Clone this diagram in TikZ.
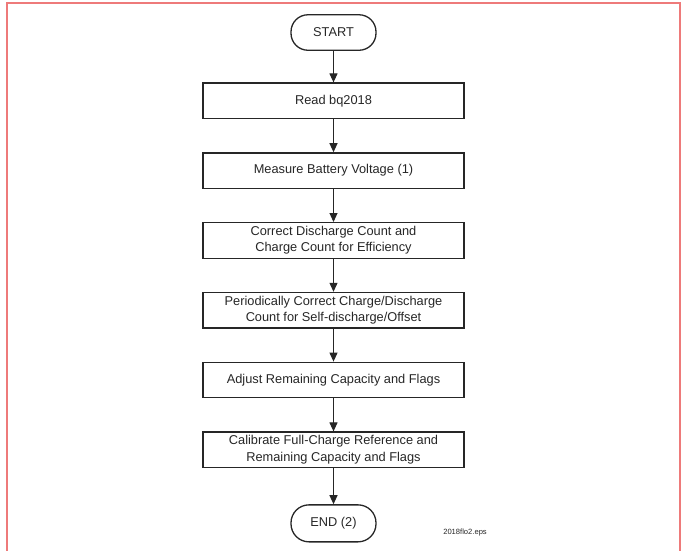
\documentclass[tikz,border=0pt]{standalone}
\usepackage{fontspec}
\setmainfont{Liberation Sans}
\usetikzlibrary{positioning,arrows.meta}

\definecolor{framered}{HTML}{EE7A7A}
\definecolor{ink}{HTML}{262626}

\tikzset{
    box/.style={draw=ink, line width=1.3pt, minimum width=261pt, minimum height=35.5pt,
        inner sep=2pt, align=center, text=ink, font=\fontsize{12.8}{16.5}\selectfont},
    term/.style={box, minimum width=85pt, rounded corners=17pt},
    flow/.style={draw=ink, line width=1.1pt, -{Triangle[length=9pt,width=8pt]}}
}

\begin{document}
\begin{tikzpicture}[x=1pt, y=-1pt, node distance=33pt]
    \useasboundingbox (0,0) rectangle (686,550);

    % Page frame
    \draw[framered, line width=1.6pt] (7,552) -- (7,3) -- (680,3) -- (680,552);

    % Flow steps
    \node[term] (start) at (333.5,32.5) {START};
    \node[box, below=31.5pt of start] (read) {Read bq2018};
    \node[box, below=of read] (measure) {Measure Battery Voltage (1)};
    \node[box, below=of measure] (correct) {Correct Discharge Count and\\Charge Count for Efficiency};
    \node[box, below=of correct] (periodic) {Periodically Correct Charge/Discharge\\Count for Self-discharge/Offset};
    \node[box, below=of periodic] (adjust) {Adjust Remaining Capacity and Flags};
    \node[box, below=of adjust] (calibrate) {Calibrate Full-Charge Reference and\\Remaining Capacity and Flags};
    \node[term, minimum height=37pt, rounded corners=18pt, below=36pt of calibrate] (stop) {END (2)};

    \node[anchor=east, inner sep=0pt, text=ink, font=\fontsize{7.6}{9}\selectfont] (fname) at (487,533) {2018flo2.eps};

    % Connectors
    \foreach \a/\b in {start/read, read/measure, measure/correct, correct/periodic,
                       periodic/adjust, adjust/calibrate, calibrate/stop}
        \draw[flow] (\a) -- (\b);

\end{tikzpicture}
\end{document}
